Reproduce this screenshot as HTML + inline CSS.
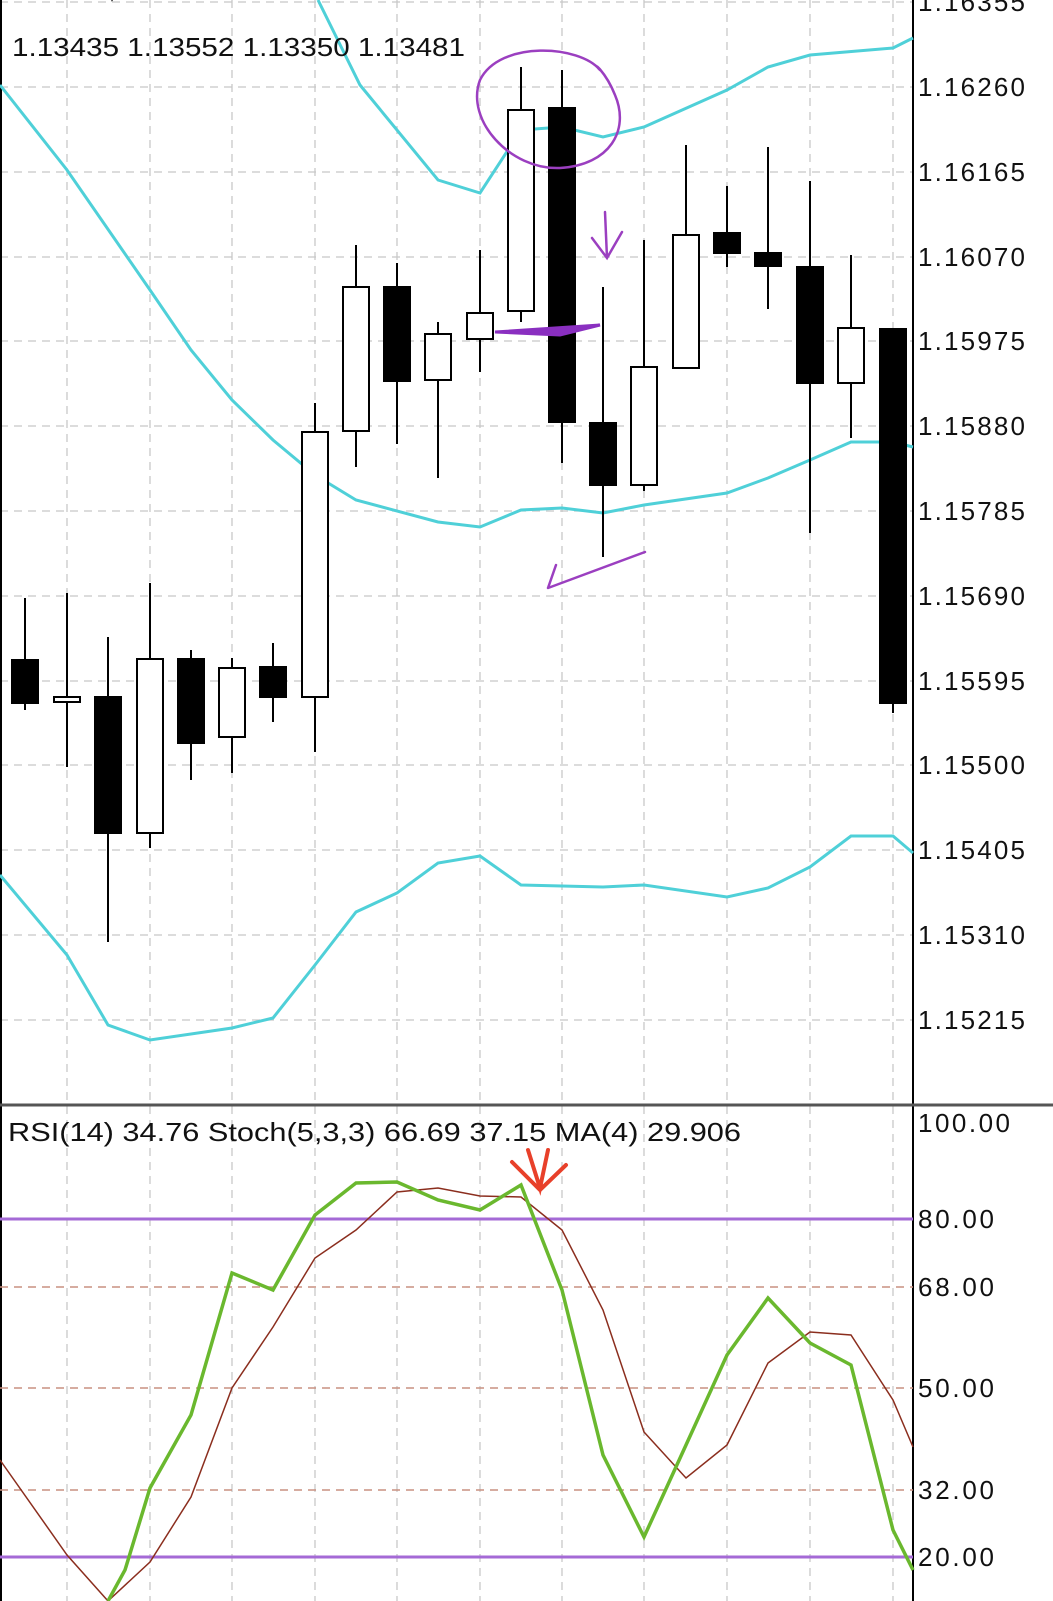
<!DOCTYPE html>
<html><head><meta charset="utf-8"><style>
html,body{margin:0;padding:0;background:#fff;}
svg{display:block;font-family:"Liberation Sans",sans-serif;}
</style></head><body>
<svg width="1053" height="1601" viewBox="0 0 1053 1601" xmlns="http://www.w3.org/2000/svg">
<rect width="1053" height="1601" fill="#fff"/>
<g stroke="#c8c8c8" stroke-width="1.3" stroke-dasharray="8,6">
<line x1="67" y1="0" x2="67" y2="1601"/><line x1="150" y1="0" x2="150" y2="1601"/><line x1="232" y1="0" x2="232" y2="1601"/><line x1="315" y1="0" x2="315" y2="1601"/><line x1="397" y1="0" x2="397" y2="1601"/><line x1="480" y1="0" x2="480" y2="1601"/><line x1="562" y1="0" x2="562" y2="1601"/><line x1="644" y1="0" x2="644" y2="1601"/><line x1="727" y1="0" x2="727" y2="1601"/><line x1="810" y1="0" x2="810" y2="1601"/><line x1="893" y1="0" x2="893" y2="1601"/>
<line x1="0" y1="2" x2="913" y2="2"/><line x1="0" y1="87" x2="913" y2="87"/><line x1="0" y1="172" x2="913" y2="172"/><line x1="0" y1="257" x2="913" y2="257"/><line x1="0" y1="341" x2="913" y2="341"/><line x1="0" y1="426" x2="913" y2="426"/><line x1="0" y1="511" x2="913" y2="511"/><line x1="0" y1="596" x2="913" y2="596"/><line x1="0" y1="681" x2="913" y2="681"/><line x1="0" y1="765" x2="913" y2="765"/><line x1="0" y1="850" x2="913" y2="850"/><line x1="0" y1="935" x2="913" y2="935"/><line x1="0" y1="1020" x2="913" y2="1020"/>
</g>
<line x1="1" y1="0" x2="1" y2="1601" stroke="#000" stroke-width="2"/>
<line x1="913" y1="0" x2="913" y2="1601" stroke="#000" stroke-width="2"/>
<line x1="0" y1="1105" x2="1053" y2="1105" stroke="#555" stroke-width="3"/>
<g fill="none" stroke="#4fd0d8" stroke-width="3">
<polyline points="318,0 360,85 438,180 480,193 521,130 562,127 603,137 644,127 727,90 768,67 810,55 893,48 913,38"/>
<polyline points="0,85 67,170 150,290 191,350 232,400 273,440 315,475 356,500 438,522 480,527 521,510 562,508 603,513 644,505 727,493 768,478 810,460 851,442 893,442 913,447"/>
<polyline points="0,875 67,955 108,1025 150,1040 232,1028 273,1018 315,965 356,912 397,893 438,863 480,856 521,885 603,887 644,885 727,897 768,888 810,867 851,836 893,836 913,853"/>
</g>
<g stroke="#000" stroke-width="2">
<line x1="25" y1="598" x2="25" y2="710"/><rect x="12" y="660" width="26" height="43" fill="#000"/>
<line x1="67" y1="593" x2="67" y2="767"/><rect x="54" y="697" width="26" height="5" fill="#fff"/>
<line x1="108" y1="637" x2="108" y2="942"/><rect x="95" y="697" width="26" height="136" fill="#000"/>
<line x1="150" y1="583" x2="150" y2="848"/><rect x="137" y="659" width="26" height="174" fill="#fff"/>
<line x1="191" y1="650" x2="191" y2="780"/><rect x="178" y="659" width="26" height="84" fill="#000"/>
<line x1="232" y1="658" x2="232" y2="773"/><rect x="219" y="668" width="26" height="69" fill="#fff"/>
<line x1="273" y1="643" x2="273" y2="722"/><rect x="260" y="667" width="26" height="30" fill="#000"/>
<line x1="315" y1="403" x2="315" y2="752"/><rect x="302" y="432" width="26" height="265" fill="#fff"/>
<line x1="356" y1="245" x2="356" y2="467"/><rect x="343" y="287" width="26" height="144" fill="#fff"/>
<line x1="397" y1="263" x2="397" y2="444"/><rect x="384" y="287" width="26" height="94" fill="#000"/>
<line x1="438" y1="322" x2="438" y2="478"/><rect x="425" y="334" width="26" height="46" fill="#fff"/>
<line x1="480" y1="250" x2="480" y2="372"/><rect x="467" y="313" width="26" height="26" fill="#fff"/>
<line x1="521" y1="67" x2="521" y2="322"/><rect x="508" y="110" width="26" height="201" fill="#fff"/>
<line x1="562" y1="70" x2="562" y2="463"/><rect x="549" y="108" width="26" height="314" fill="#000"/>
<line x1="603" y1="287" x2="603" y2="557"/><rect x="590" y="423" width="26" height="62" fill="#000"/>
<line x1="644" y1="240" x2="644" y2="491"/><rect x="631" y="367" width="26" height="118" fill="#fff"/>
<line x1="686" y1="145" x2="686" y2="368"/><rect x="673" y="235" width="26" height="133" fill="#fff"/>
<line x1="727" y1="186" x2="727" y2="267"/><rect x="714" y="233" width="26" height="20" fill="#000"/>
<line x1="768" y1="147" x2="768" y2="309"/><rect x="755" y="253" width="26" height="13" fill="#000"/>
<line x1="810" y1="181" x2="810" y2="533"/><rect x="797" y="267" width="26" height="116" fill="#000"/>
<line x1="851" y1="255" x2="851" y2="438"/><rect x="838" y="328" width="26" height="55" fill="#fff"/>
<line x1="893" y1="329" x2="893" y2="713"/><rect x="880" y="329" width="26" height="374" fill="#000"/>
</g>
<g font-size="26" fill="#111">
<text x="14" y="-2" textLength="130" lengthAdjust="spacingAndGlyphs">EURUSD,H4</text>
<text x="12" y="56" textLength="453" lengthAdjust="spacingAndGlyphs">1.13435 1.13552 1.13350 1.13481</text>
<text x="8" y="1141" textLength="733" lengthAdjust="spacingAndGlyphs">RSI(14) 34.76 Stoch(5,3,3) 66.69 37.15 MA(4) 29.906</text>
</g>
<g font-size="26" fill="#111" lengthAdjust="spacingAndGlyphs">
<text x="918" y="11" textLength="107">1.16355</text><text x="918" y="96" textLength="107">1.16260</text><text x="918" y="181" textLength="107">1.16165</text><text x="918" y="266" textLength="107">1.16070</text><text x="918" y="350" textLength="107">1.15975</text><text x="918" y="435" textLength="107">1.15880</text><text x="918" y="520" textLength="107">1.15785</text><text x="918" y="605" textLength="107">1.15690</text><text x="918" y="690" textLength="107">1.15595</text><text x="918" y="774" textLength="107">1.15500</text><text x="918" y="859" textLength="107">1.15405</text><text x="918" y="944" textLength="107">1.15310</text><text x="918" y="1029" textLength="107">1.15215</text>
<text x="918" y="1132" textLength="92">100.00</text><text x="918" y="1228" textLength="76">80.00</text><text x="918" y="1296" textLength="76">68.00</text><text x="918" y="1397" textLength="76">50.00</text><text x="918" y="1499" textLength="76">32.00</text><text x="918" y="1566" textLength="76">20.00</text>
</g>
<g stroke="#c89080" stroke-width="1.5" stroke-dasharray="8,6">
<line x1="0" y1="1287" x2="913" y2="1287"/><line x1="0" y1="1388" x2="913" y2="1388"/><line x1="0" y1="1490" x2="913" y2="1490"/>
</g>
<g stroke="#a46ad6" stroke-width="3"><line x1="0" y1="1219" x2="913" y2="1219"/><line x1="0" y1="1557" x2="913" y2="1557"/></g>
<polyline fill="none" stroke="#8b2e1e" stroke-width="1.5" points="0,1460 67,1555 108,1601 150,1562 191,1497 232,1388 273,1327 315,1258 356,1230 397,1192 438,1188 480,1196 521,1197 562,1230 603,1310 644,1432 686,1478 727,1445 768,1363 810,1332 851,1335 893,1400 913,1447"/>
<polyline fill="none" stroke="#6ab82e" stroke-width="3.5" points="108,1601 125,1570 150,1488 191,1415 232,1273 273,1290 315,1215 356,1183 397,1182 438,1200 480,1210 521,1185 562,1290 603,1455 644,1537 686,1445 727,1355 768,1298 810,1343 851,1365 893,1530 913,1570"/>
<g fill="none" stroke="#9b3fc0" stroke-width="2.5" stroke-linecap="round">
<path d="M600,70 C580,45 500,40 480,80 C465,120 510,170 560,168 C610,165 630,130 615,95 C605,70 590,60 600,70"/>
<path d="M605,212 L607,258 M592,238 L607,258 L622,232"/>
<path d="M548,588 L645,552 M548,588 L556,565"/>
</g>
<path d="M495,332 L600,325 L560,335 Z" fill="#8a2fc0" stroke="#8a2fc0" stroke-width="3"/>
<path d="M512,1162 L540,1190 L566,1165 M528,1150 L540,1188 L548,1150" fill="none" stroke="#e8402a" stroke-width="4" stroke-linecap="round"/>
</svg>
</body></html>
